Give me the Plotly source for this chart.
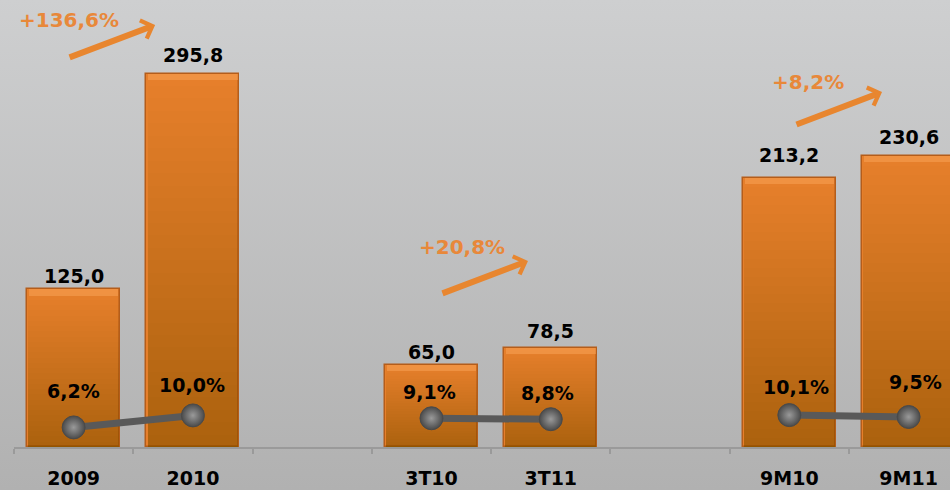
import base64
import plotly.graph_objects as go

# Revenue (bars) and margin % (line) per period; blank slots separate the groups
categories = ["2009", "2010", " ", "3T10", "3T11", "  ", "9M10", "9M11"]
revenue = [125.0, 295.8, None, 65.0, 78.5, None, 213.2, 230.6]
margin_pct = [6.2, 10.0, None, 9.1, 8.8, None, 10.1, 9.5]
growth_labels = ["+136,6%", "+20,8%", "+8,2%"]

FONT = "DejaVu Sans"
ORANGE = "#e67f2b"
ORANGE_TXT = "#e8883a"
BAR_W = 0.78

fig = go.Figure()

# main bars
fig.add_trace(go.Bar(
    x=categories, y=revenue, width=BAR_W,
    marker=dict(color=ORANGE, line=dict(color="#b45d1b", width=1.5)),
    hoverinfo="skip",
))
# darker shading toward the base of each bar
N_SHADE = 30
for k in range(1, N_SHADE):
    f = 1 - k / N_SHADE
    fig.add_trace(go.Bar(
        x=categories, y=[None if v is None else v * f for v in revenue],
        width=BAR_W - 0.02,
        marker=dict(color="rgba(120,45,0,0.010)", line=dict(width=0)),
        hoverinfo="skip",
    ))
# light bevel on the top edge
BEVEL = 5.0
fig.add_trace(go.Bar(
    x=categories,
    y=[None if v is None else BEVEL for v in revenue],
    base=[None if v is None else v - BEVEL for v in revenue],
    width=BAR_W - 0.03,
    marker=dict(color="rgba(250,165,90,0.5)", line=dict(width=0)),
    hoverinfo="skip",
))

# margin line on secondary axis
fig.add_trace(go.Scatter(
    x=categories, y=margin_pct, yaxis="y2", mode="lines+markers",
    connectgaps=False,
    line=dict(color="#595959", width=7),
    marker=dict(size=23, color="#4a4a4a",
                gradient=dict(type="radial", color="#9a9a9a"),
                line=dict(color="#4a4a4a", width=1)),
    hoverinfo="skip",
))


def bold(size, color):
    return dict(family=FONT, size=size, color=color, weight=700, style="normal")


annotations = []
# value labels above the bars
val_shift = [13.5, 18.5, 0, 13.3, 17, 0, 22.7, 18.7]
for i, (v, s) in enumerate(zip(revenue, val_shift)):
    if v is None:
        continue
    annotations.append(dict(
        x=i, y=v, xref="x", yref="y", text=f"{v:.1f}".replace(".", ","),
        showarrow=False, yanchor="middle", yshift=s, font=bold(19, "black"),
    ))
# margin labels above the markers
pct_shift = [(0, 36), (-1, 30), (0, 0), (-2, 26), (-3, 26), (0, 0), (7, 28), (7, 35)]
for i, (p, (dx, dy)) in enumerate(zip(margin_pct, pct_shift)):
    if p is None:
        continue
    annotations.append(dict(
        x=i, y=p, xref="x", yref="y2", text=f"{p:.1f}%".replace(".", ","),
        showarrow=False, yanchor="middle", xshift=dx, yshift=dy,
        font=bold(19, "black"),
    ))
# growth arrows and labels
arrow_tips = [(0.683, 334.3), (3.809, 147.4), (6.777, 281.2)]
label_pos = [(-0.038, 338.3), (3.256, 158.7), (6.153, 289.4)]
for (tx, ty), (lx, ly), lab in zip(arrow_tips, label_pos, growth_labels):
    annotations.append(dict(
        x=tx, y=ty, xref="x", yref="y", ax=-87, ay=33, axref="pixel", ayref="pixel",
        text="", showarrow=True, arrowhead=4, arrowsize=0.62, arrowwidth=6,
        arrowcolor="#e8862f", standoff=0,
    ))
    annotations.append(dict(
        x=lx, y=ly, xref="x", yref="y", text=lab, showarrow=False,
        font=bold(20, ORANGE_TXT),
    ))

# vertical grey gradient behind everything
svg = ('<svg xmlns="http://www.w3.org/2000/svg" width="10" height="100" '
       'preserveAspectRatio="none"><defs><linearGradient id="g" x1="0" y1="0" '
       'x2="0" y2="1"><stop offset="0" stop-color="#cecfd0"/>'
       '<stop offset="1" stop-color="#b1b1b1"/></linearGradient></defs>'
       '<rect width="10" height="100" fill="url(#g)"/></svg>')
bg_src = "data:image/svg+xml;base64," + base64.b64encode(svg.encode()).decode()

L, B = 14, 43
PW, PH = 950 - L, 490 - B

fig.update_layout(
    width=950, height=490,
    margin=dict(l=L, r=0, t=0, b=B),
    barmode="overlay",
    bargap=0,
    showlegend=False,
    separators=",.",
    paper_bgcolor="#bdbdbd",
    plot_bgcolor="rgba(0,0,0,0)",
    images=[dict(source=bg_src, xref="paper", yref="paper",
                 x=-L / PW, y=1, sizex=950 / PW, sizey=490 / PH,
                 xanchor="left", yanchor="top", sizing="stretch", layer="below")],
    xaxis=dict(
        type="category", range=[-0.5, 7.347],
        showline=True, linecolor="#9a9a9a", linewidth=1.5,
        ticks="outside", ticklen=5, tickcolor="#9a9a9a", tickwidth=1.5,
        tickson="boundaries", showgrid=False, zeroline=False,
        tickfont=bold(19, "black"),
        ticklabelstandoff=13,
    ),
    yaxis=dict(range=[0, 354.1], visible=False, showgrid=False, zeroline=False),
    yaxis2=dict(range=[0, 141.5], overlaying="y", visible=False,
                showgrid=False, zeroline=False),
    annotations=annotations,
)

fig.write_html("out.html")
